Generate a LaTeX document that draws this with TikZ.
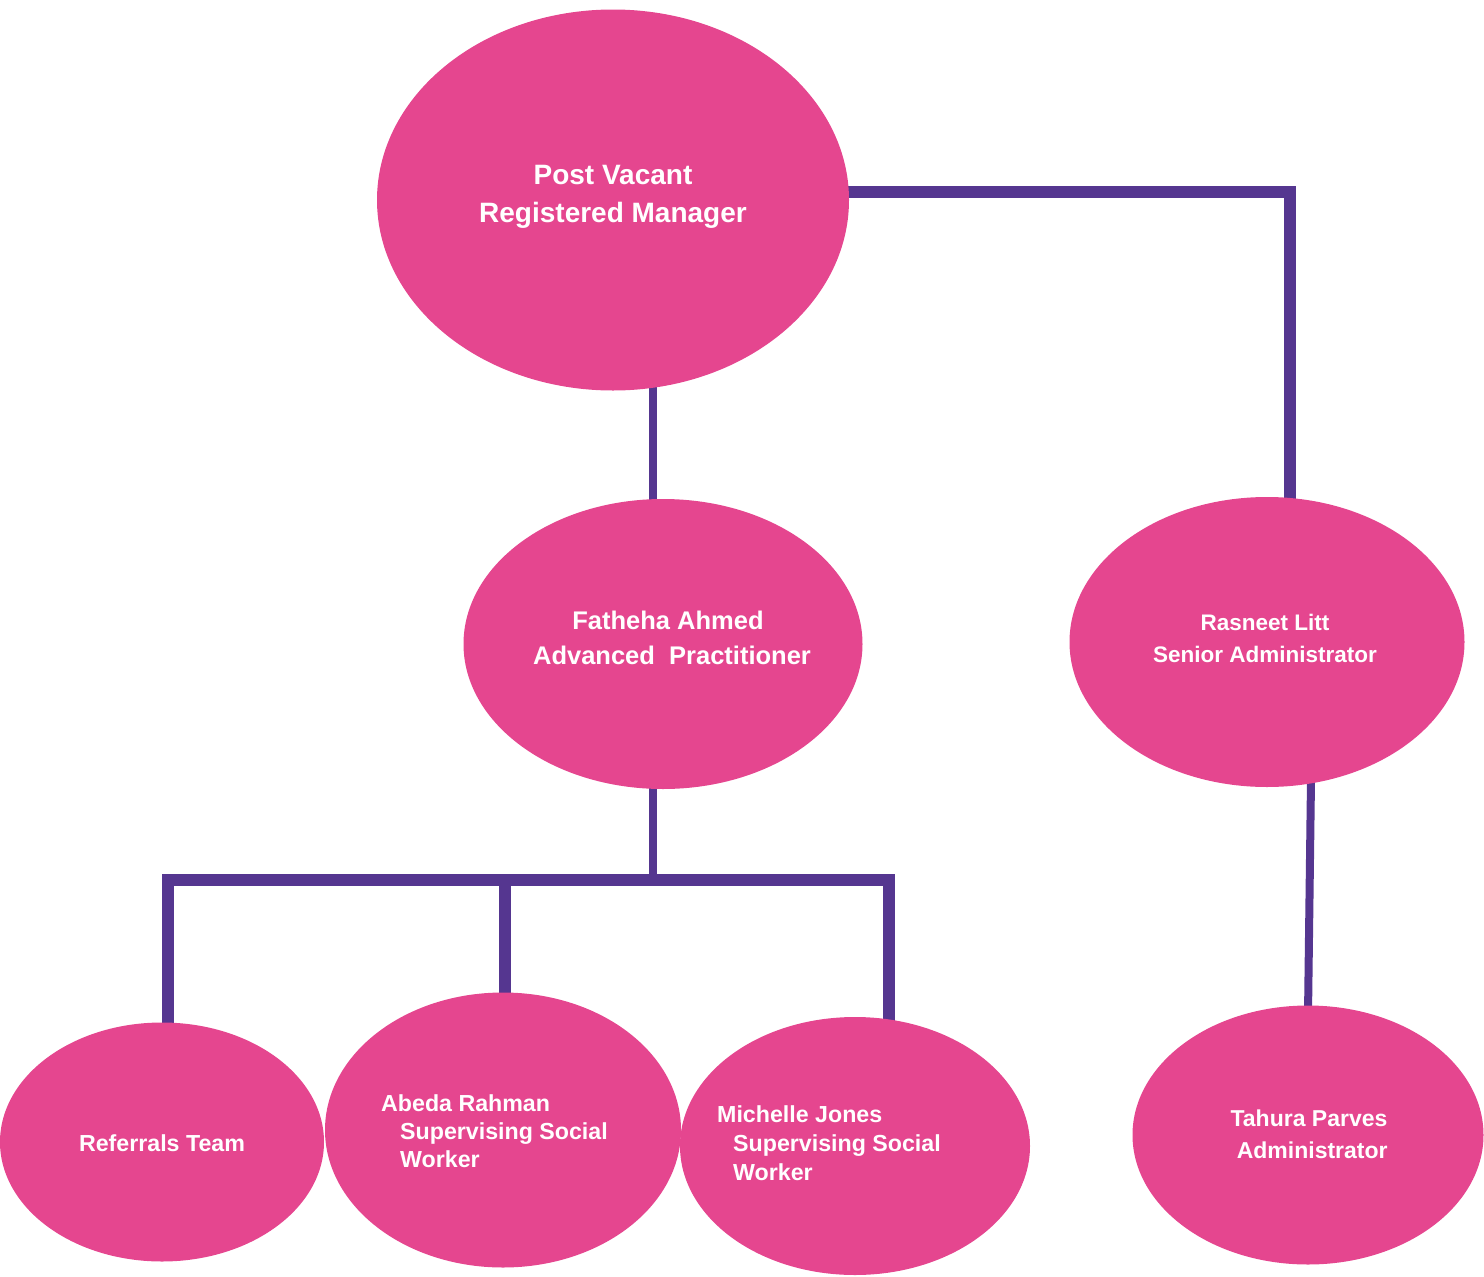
\documentclass[tikz,border=0pt]{standalone}
\usepackage{fontspec}
\setmainfont{Liberation Sans}
\usetikzlibrary{shapes.geometric,backgrounds}
\definecolor{pinkf}{HTML}{E5468F}
\definecolor{purp}{HTML}{553690}
\begin{document}
\begin{tikzpicture}[x=1pt,y=-1pt,
  oval/.style={ellipse,fill=pinkf,draw=none,inner sep=0pt},
  lbl/.style={text=white,font=\bfseries,inner sep=0pt},
  conn/.style={draw=purp,line width=12pt},
  thinconn/.style={draw=purp,line width=8pt}]
\useasboundingbox (0,0) rectangle (1484,1277);
% ellipses
\node[oval,minimum width=472pt,minimum height=381pt] (top) at (613,200) {};
\node[oval,minimum width=399pt,minimum height=290pt] (fat) at (663,644) {};
\node[oval,minimum width=395pt,minimum height=290pt] (ras) at (1267,642) {};
\node[oval,minimum width=324pt,minimum height=239pt] (ref) at (162,1142) {};
\node[oval,minimum width=356pt,minimum height=275pt] (abe) at (503,1130) {};
\node[oval,minimum width=350pt,minimum height=258pt] (mic) at (855,1146) {};
\node[oval,minimum width=351pt,minimum height=259pt] (tah) at (1308,1135) {};
% labels
\node[lbl,align=center,font=\bfseries\fontsize{28}{38}\selectfont] (ttop) at (613,197) {Post Vacant\\Registered Manager};
\node[lbl,align=center,font=\bfseries\fontsize{25.5}{35}\selectfont] (tfat) at (672,638) {Fatheha Ahmed\hspace*{8pt}\\Advanced\ \ Practitioner};
\node[lbl,align=center,font=\bfseries\fontsize{22.5}{32}\selectfont] (tras) at (1265,638) {Rasneet Litt\\Senior Administrator};
\node[lbl,align=center,font=\bfseries\fontsize{23.2}{28}\selectfont] (tref) at (162,1143) {Referrals Team};
\node[lbl,align=left,anchor=west,font=\bfseries\fontsize{23.2}{28}\selectfont] (tabe) at (381,1131) {Abeda Rahman\\\hspace*{19pt}Supervising Social\\\hspace*{19pt}Worker};
\node[lbl,align=left,anchor=west,font=\bfseries\fontsize{23.2}{29}\selectfont] (tmic) at (717,1143) {Michelle Jones\\\hspace*{16pt}Supervising Social\\\hspace*{16pt}Worker};
\node[lbl,align=center,font=\bfseries\fontsize{23}{32}\selectfont] (ttah) at (1309,1134) {Tahura Parves\\\ Administrator};
% connector helpers
\coordinate (cr) at (1290,192);
\coordinate (s1) at (653,0);
\coordinate (hb) at (653,880);
\coordinate (hl) at (168,880);
\coordinate (hm) at (505,880);
\coordinate (hr) at (889,880);
\coordinate (ra) at (1311,780);
\coordinate (ta) at (1308,1015);
\begin{scope}[on background layer]
  \draw[conn] (top.center |- cr) -- ([xshift=6pt]cr) ;
  \draw[conn] (cr) -- (cr |- ras.center);
  \draw[thinconn] (s1 |- top.center) -- (s1 |- fat.center);
  \draw[thinconn] (s1 |- fat.center) -- (hb);
  \draw[conn] ([xshift=-6pt]hl) -- ([xshift=6pt]hr);
  \draw[conn] (hl) -- (hl |- ref.center);
  \draw[conn] (hm) -- (hm |- abe.center);
  \draw[conn] (hr) -- (hr |- mic.center);
  \draw[thinconn] (ra) -- (ta);
  \draw[thinconn] (ra) -- (ras.center);
  \draw[thinconn] (ta) -- (tah.center);
\end{scope}
\end{tikzpicture}
\end{document}
